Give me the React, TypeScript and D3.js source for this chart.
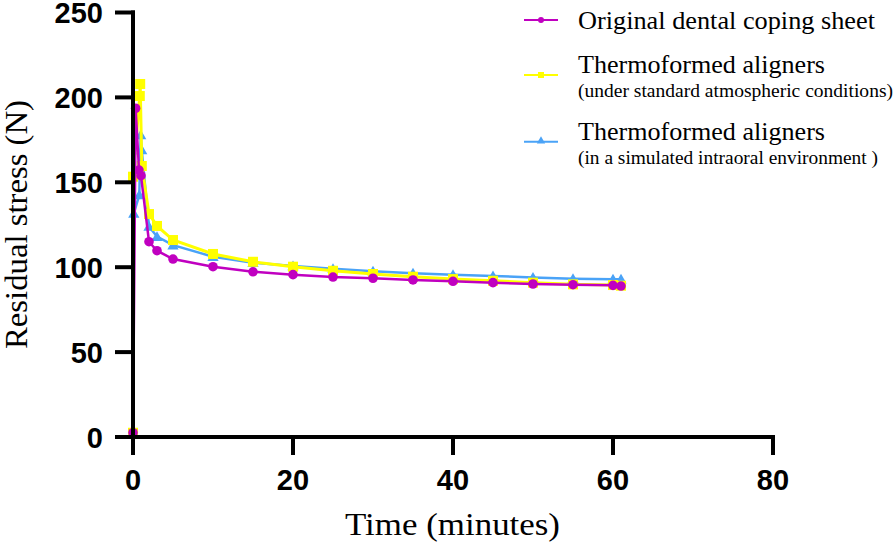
import React from "react";
import * as d3 from "d3";

const seriesNames = [
  "Original dental coping sheet",
  "Thermoformed aligners",
  "Thermoformed aligners",
];
const seriesSubNames = ["", "(under standard atmospheric conditions)", "(in a simulated intraoral environment )"];

const timePurple = [0, 0.33, 0.75, 1, 2, 3, 5, 10, 15, 20, 25, 30, 35, 40, 45, 50, 55, 60, 61];
const stressPurple = [2.5, 193.6, 157.2, 153.9, 115, 109.7, 104.8, 100.3, 97.3, 95.6, 94.2, 93.5, 92.5, 91.7, 90.9, 90.1, 89.7, 89.3, 88.9];

const timeYellow = [0, 0, 0.85, 0.9, 1.1, 2, 3, 5, 10, 15, 20, 25, 30, 35, 40, 45, 50, 55, 60, 61];
const stressYellow = [2.5, 153.3, 200.8, 207.9, 159.6, 131.3, 124.3, 116, 107.8, 103.2, 100.3, 97.9, 96, 94.4, 93, 92, 90.9, 89.9, 89.5, 89.1];

const timeBlue = [0, 0.1, 0.79, 0.96, 1.09, 2, 3, 5, 10, 15, 20, 25, 30, 35, 40, 45, 50, 55, 60, 61];
const stressBlue = [2.5, 131.7, 142.5, 177.9, 169, 123.9, 118, 113, 106.2, 102.6, 100.7, 99.1, 97.6, 96.4, 95.6, 94.8, 94, 93.2, 92.9, 92.9];

const xTicks = [0, 20, 40, 60, 80];
const yTicks = [0, 50, 100, 150, 200, 250];

const PURPLE = "#c000c0";
const YELLOW = "#ffff00";
const BLUE = "#4aa3f7";

const W = 896;
const H = 551;

const SANS = '"Liberation Sans", Arial, Helvetica, sans-serif';
const SERIF = '"Liberation Serif", "Times New Roman", Times, serif';

export default function App() {
  const x = d3.scaleLinear().domain([0, 80]).range([133, 773]);
  const y = d3.scaleLinear().domain([0, 250]).range([437, 12.5]);

  const mk = (ts: number[], vs: number[]) => ts.map((t, i) => [t, vs[i]] as [number, number]);
  const purple = mk(timePurple, stressPurple);
  const yellow = mk(timeYellow, stressYellow);
  const blue = mk(timeBlue, stressBlue);

  const line = d3
    .line<[number, number]>()
    .x((d) => x(d[0]))
    .y((d) => y(d[1]));

  const tri = d3.symbol().type(d3.symbolTriangle).size(55)() as string;
  const triSmall = d3.symbol().type(d3.symbolTriangle).size(30)() as string;

  const tickStyle = { fontFamily: SANS, fontWeight: 700, fontSize: 29 } as React.CSSProperties;
  const serifStyle = (size: number) => ({ fontFamily: SERIF, fontSize: size } as React.CSSProperties);

  return (
    <svg
      width={W}
      height={H}
      style={{ position: "absolute", left: 0, top: 0, background: "#fff" }}
    >
      {/* series: blue, yellow, purple (purple on top) */}
      <path d={line(blue) || ""} fill="none" stroke={BLUE} strokeWidth={2.5} />
      {blue.map((d, i) => (
        <path key={"b" + i} d={tri} transform={`translate(${x(d[0])},${y(d[1]) + 1})`} fill={BLUE} />
      ))}
      <path d={line(yellow) || ""} fill="none" stroke={YELLOW} strokeWidth={3} />
      {yellow.map((d, i) => (
        <rect key={"y" + i} x={x(d[0]) - 5} y={y(d[1]) - 5} width={10} height={10} fill={YELLOW} />
      ))}
      <path d={line(purple) || ""} fill="none" stroke={PURPLE} strokeWidth={2.5} />
      {purple.map((d, i) => (
        <circle key={"p" + i} cx={x(d[0])} cy={y(d[1])} r={4.8} fill={PURPLE} />
      ))}

      {/* axes */}
      <g stroke="#000" strokeWidth={4} strokeLinecap="square">
        <line x1={x(0)} x2={x(0)} y1={y(0)} y2={y(250)} />
        <line x1={x(0)} x2={x(80)} y1={y(0)} y2={y(0)} />
        {yTicks.map((t) => (
          <line key={"yt" + t} x1={x(0) - 16} x2={x(0)} y1={y(t)} y2={y(t)} />
        ))}
        {xTicks.map((t) => (
          <line key={"xt" + t} x1={x(t)} x2={x(t)} y1={y(0)} y2={y(0) + 16} />
        ))}
      </g>
      {yTicks.map((t) => (
        <text key={"yl" + t} x={103} y={y(t) + 10.6} textAnchor="end" style={tickStyle} fill="#000">
          {t}
        </text>
      ))}
      {xTicks.map((t) => (
        <text key={"xl" + t} x={x(t)} y={490} textAnchor="middle" style={tickStyle} fill="#000">
          {t}
        </text>
      ))}

      {/* axis titles */}
      <text x={345} y={535} style={serifStyle(32)} textLength={215} lengthAdjust="spacingAndGlyphs" fill="#000">
        Time (minutes)
      </text>
      <text
        transform="translate(27,349) rotate(-90)"
        x={0}
        y={0}
        style={serifStyle(31)}
        textLength={249}
        lengthAdjust="spacingAndGlyphs"
        fill="#000"
      >
        Residual stress (N)
      </text>

      {/* legend */}
      <g fill="#000">
        <line x1={524} x2={558} y1={20} y2={20} stroke={PURPLE} strokeWidth={2} />
        <circle cx={541} cy={20} r={3} fill={PURPLE} />
        <text x={578} y={28.5} style={serifStyle(25)} textLength={297} lengthAdjust="spacingAndGlyphs">
          {seriesNames[0]}
        </text>

        <line x1={524} x2={558} y1={75} y2={75} stroke={YELLOW} strokeWidth={2} />
        <rect x={538} y={72} width={6} height={6} fill={YELLOW} />
        <text x={578} y={73} style={serifStyle(25)} textLength={247} lengthAdjust="spacingAndGlyphs">
          {seriesNames[1]}
        </text>
        <text x={578} y={97} style={serifStyle(19)} textLength={315} lengthAdjust="spacingAndGlyphs">
          {seriesSubNames[1]}
        </text>

        <line x1={524} x2={558} y1={141.7} y2={141.7} stroke={BLUE} strokeWidth={2} />
        <path d={triSmall} transform="translate(541,141)" fill={BLUE} />
        <text x={578} y={139.5} style={serifStyle(25)} textLength={247} lengthAdjust="spacingAndGlyphs">
          {seriesNames[2]}
        </text>
        <text x={578} y={164} style={serifStyle(19)} textLength={300} lengthAdjust="spacingAndGlyphs">
          {seriesSubNames[2]}
        </text>
      </g>
    </svg>
  );
}
